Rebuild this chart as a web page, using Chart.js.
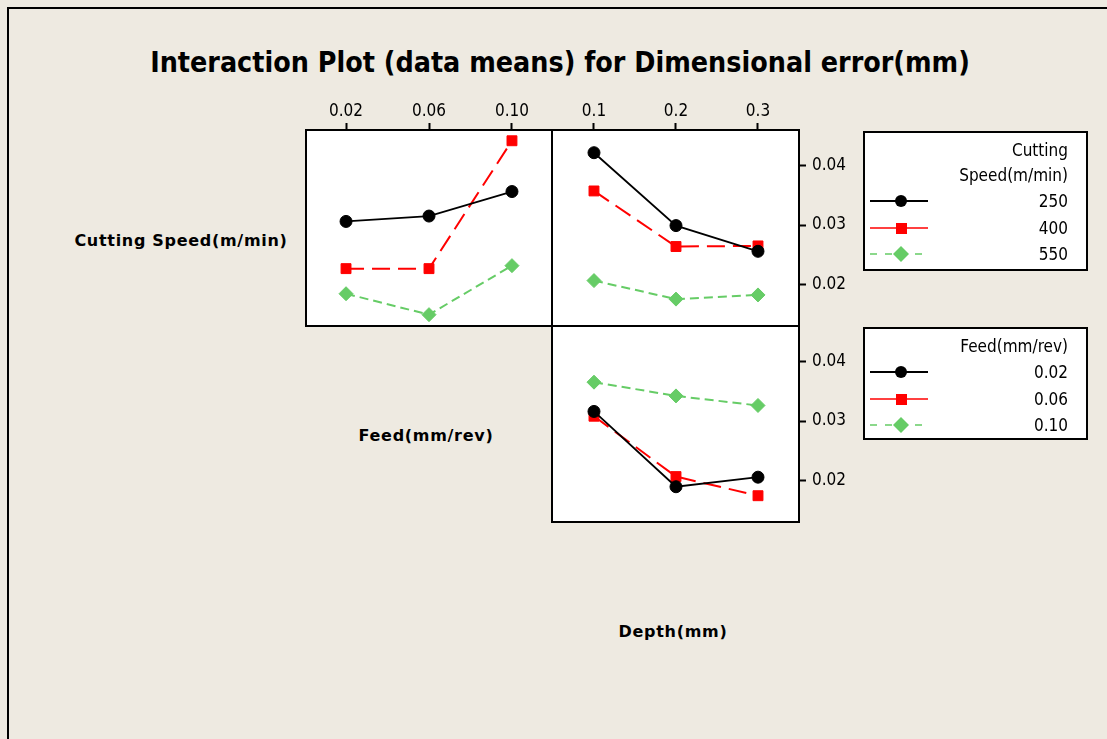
<!DOCTYPE html>
<html><head><meta charset="utf-8">
<script src="https://cdn.jsdelivr.net/npm/chart.js@4.4.1/dist/chart.umd.min.js"></script>
<style>
html,body{margin:0;padding:0;}
body{width:1107px;height:739px;background:#EEEAE1;position:relative;overflow:hidden;font-family:"DejaVu Sans Condensed","DejaVu Sans",sans-serif;color:#000;}
#frame{position:absolute;left:7px;top:7px;width:1120px;height:760px;border-left:2px solid #000;border-top:2px solid #000;}
canvas.cv{position:absolute;}
.lbl{position:absolute;font-family:"DejaVu Sans",sans-serif;font-weight:bold;font-size:16px;letter-spacing:0.7px;white-space:nowrap;transform:translate(-50%,-50%);}
#title{position:absolute;left:560px;top:62px;transform:translate(-50%,-50%);font-family:"DejaVu Sans Condensed","DejaVu Sans",sans-serif;font-weight:bold;font-size:27px;white-space:nowrap;}
.lbox{position:absolute;left:863px;width:225px;background:#fff;border:2px solid #000;box-sizing:border-box;}
.ltxt{position:absolute;left:800px;width:268px;text-align:right;font-size:17px;line-height:20px;transform:translateY(-50%);white-space:nowrap;}
#lsvg{position:absolute;left:0;top:0;}
</style>
</head>
<body>
<div id="frame"></div>
<div id="title">Interaction Plot (data means) for Dimensional error(mm)</div>
<div class="lbl" id="rowSpeed" style="left:181px;top:240px;">Cutting Speed(m/min)</div>
<div class="lbl" id="rowFeed" style="left:426px;top:435px;">Feed(mm/rev)</div>
<div class="lbl" id="rowDepth" style="left:673px;top:631px;">Depth(mm)</div>

<canvas class="cv" id="p1" width="266" height="246" style="left:296px;top:90px;"></canvas>
<canvas class="cv" id="p2" width="317" height="246" style="left:542px;top:90px;"></canvas>
<canvas class="cv" id="p3" width="317" height="216" style="left:542px;top:316px;"></canvas>

<div class="lbox" style="top:131px;height:140px;"></div>
<div class="lbox" style="top:327px;height:113px;"></div>
<div id="legendText"></div>
<svg id="lsvg" width="1107" height="739"></svg>

<script>
// ---- Data ----
const feedLevels  = [0.02, 0.06, 0.10];
const feedLabels  = ['0.02', '0.06', '0.10'];
const depthLevels = [0.1, 0.2, 0.3];
const depthLabels = ['0.1', '0.2', '0.3'];
const yTicks      = [0.02, 0.03, 0.04];
const yTickLabels = ['0.02', '0.03', '0.04'];
const speedLevels = ['250', '400', '550'];
const feedLegend  = ['0.02', '0.06', '0.10'];

// Cutting Speed x Feed (means at each feed)
const speed250_byFeed  = [0.0306, 0.0315, 0.0356];
const speed400_byFeed  = [0.0227, 0.0227, 0.0441];
const speed550_byFeed  = [0.0185, 0.0150, 0.0232];
// Cutting Speed x Depth
const speed250_byDepth = [0.0421, 0.0299, 0.0256];
const speed400_byDepth = [0.0357, 0.0264, 0.0265];
const speed550_byDepth = [0.0207, 0.0176, 0.0183];
// Feed x Depth
const feed002_byDepth  = [0.0316, 0.0190, 0.0206];
const feed006_byDepth  = [0.0308, 0.0207, 0.0175];
const feed010_byDepth  = [0.0365, 0.0342, 0.0326];

// ---- Styles ----
const BLACK = '#000000', RED = '#FF0000', GREEN = '#66CC66';
const styles = [
  {color: BLACK, width: 1.8, dash: [],      point: 'circle',  r: 6},
  {color: RED,   width: 2,   dash: [18, 8], point: 'rect',    r: 7},
  {color: GREEN, width: 2,   dash: [9, 5],  point: 'rectRot', r: 7}
];
const Y_MIN = 0.0131, Y_MAX = 0.0459;
const tickFont = {family: '"DejaVu Sans Condensed","DejaVu Sans",sans-serif', size: 17};

function ds(xs, ys, st, label) {
  return {
    label: label,
    data: xs.map((x, i) => ({x: x, y: ys[i]})),
    borderColor: st.color, backgroundColor: st.color,
    borderWidth: st.width, borderDash: st.dash,
    pointStyle: st.point, pointRadius: st.r,
    pointBackgroundColor: st.color, pointBorderColor: st.color, pointBorderWidth: 1,
    tension: 0, fill: false
  };
}

const framePlugin = {
  id: 'frame',
  beforeDraw(chart) {
    const {ctx, chartArea: a} = chart;
    ctx.save(); ctx.fillStyle = '#fff';
    ctx.fillRect(a.left, a.top, a.right - a.left, a.bottom - a.top);
    ctx.restore();
  },
  afterDraw(chart) {
    const {ctx, chartArea: a} = chart;
    ctx.save(); ctx.strokeStyle = '#000'; ctx.lineWidth = 2;
    ctx.strokeRect(a.left, a.top, a.right - a.left, a.bottom - a.top);
    ctx.restore();
  }
};

function xAxis(levels, labels, min, max, show) {
  const ax = {
    type: 'linear', position: 'top', min: min, max: max, display: show,
    afterBuildTicks: s => { s.ticks = levels.map(v => ({value: v})); },
    ticks: {callback: (v, i) => labels[i], font: tickFont, color: '#000', padding: 1, maxRotation: 0, autoSkip: false},
    grid: {drawOnChartArea: false, drawTicks: true, tickLength: 7, tickColor: '#000', tickWidth: 2},
    border: {display: false}
  };
  ax.afterFit = s => {
    s.height = show ? 40 : 0;
    s.paddingLeft = 0; s.paddingRight = 0; s.paddingTop = 0; s.paddingBottom = 0;
  };
  return ax;
}
function yAxis(show) {
  const ax = {
    type: 'linear', position: 'right', min: Y_MIN, max: Y_MAX, display: show,
    afterBuildTicks: s => { s.ticks = yTicks.map(v => ({value: v})); },
    ticks: {callback: (v, i) => yTickLabels[i], font: tickFont, color: '#000', padding: 6, autoSkip: false},
    grid: {drawOnChartArea: false, drawTicks: true, tickLength: 7, tickColor: '#000', tickWidth: 2},
    border: {display: false}
  };
  ax.afterFit = s => {
    s.width = show ? 60 : 0;
    s.paddingLeft = 0; s.paddingRight = 0; s.paddingTop = 0; s.paddingBottom = 0;
  };
  return ax;
}
function makeChart(id, datasets, xa, ya, padding) {
  return new Chart(document.getElementById(id), {
    type: 'line',
    data: {datasets: datasets},
    options: {
      responsive: false, animation: false, devicePixelRatio: 1,
      layout: {padding: padding},
      plugins: {legend: {display: false}, tooltip: {enabled: false}, title: {display: false}},
      scales: {x: xa, y: ya}
    },
    plugins: [framePlugin]
  });
}

makeChart('p1', [
  ds(feedLevels, speed250_byFeed, styles[0], speedLevels[0]),
  ds(feedLevels, speed400_byFeed, styles[1], speedLevels[1]),
  ds(feedLevels, speed550_byFeed, styles[2], speedLevels[2])
], xAxis(feedLevels, feedLabels, 0.0007, 0.1193, true), yAxis(false),
  {left: 10, right: 10, top: 0, bottom: 10});

makeChart('p2', [
  ds(depthLevels, speed250_byDepth, styles[0], speedLevels[0]),
  ds(depthLevels, speed400_byDepth, styles[1], speedLevels[1]),
  ds(depthLevels, speed550_byDepth, styles[2], speedLevels[2])
], xAxis(depthLevels, depthLabels, 0.0488, 0.35, true), yAxis(true),
  {left: 10, right: 0, top: 0, bottom: 10});

makeChart('p3', [
  ds(depthLevels, feed002_byDepth, styles[0], feedLegend[0]),
  ds(depthLevels, feed006_byDepth, styles[1], feedLegend[1]),
  ds(depthLevels, feed010_byDepth, styles[2], feedLegend[2])
], xAxis(depthLevels, depthLabels, 0.0488, 0.35, false), yAxis(true),
  {left: 10, right: 0, top: 10, bottom: 10});

// ---- Legends (HTML text + SVG samples) ----
const lt = document.getElementById('legendText');
const svg = document.getElementById('lsvg');
function addText(txt, y) {
  const d = document.createElement('div');
  d.className = 'ltxt'; d.style.top = y + 'px'; d.textContent = txt; lt.appendChild(d);
}
function addSample(st, y, legendDash) {
  const NS = 'http://www.w3.org/2000/svg';
  const ln = document.createElementNS(NS, 'line');
  ln.setAttribute('x1', 870); ln.setAttribute('x2', 928);
  ln.setAttribute('y1', y); ln.setAttribute('y2', y);
  ln.setAttribute('stroke', st.color); ln.setAttribute('stroke-width', st.point === 'circle' ? 2 : 1.6);
  if (legendDash) ln.setAttribute('stroke-dasharray', legendDash);
  svg.appendChild(ln);
  let m;
  if (st.point === 'circle') {
    m = document.createElementNS(NS, 'circle');
    m.setAttribute('cx', 901); m.setAttribute('cy', y); m.setAttribute('r', 6);
  } else if (st.point === 'rect') {
    m = document.createElementNS(NS, 'rect');
    m.setAttribute('x', 896); m.setAttribute('y', y - 5); m.setAttribute('width', 11); m.setAttribute('height', 11);
  } else {
    m = document.createElementNS(NS, 'polygon');
    m.setAttribute('points', `${901-8},${y} ${901},${y-8} ${901+8},${y} ${901},${y+8}`);
  }
  m.setAttribute('fill', st.color);
  svg.appendChild(m);
}
addText('Cutting', 150); addText('Speed(m/min)', 175);
const lg1Y = [201, 228, 254];
speedLevels.forEach((s, i) => { addText(s, lg1Y[i]); addSample(styles[i], lg1Y[i], i === 2 ? '7,8' : null); });
addText('Feed(mm/rev)', 346);
const lg2Y = [372, 399, 425];
feedLegend.forEach((s, i) => { addText(s, lg2Y[i]); addSample(styles[i], lg2Y[i], i === 2 ? '7,8' : null); });

// fit title width to reference span
(function fit() {
  const t = document.getElementById('title');
  const w = t.getBoundingClientRect().width;
  const fs = parseFloat(getComputedStyle(t).fontSize);
  t.style.fontSize = (fs * 820 / w) + 'px';
})();
</script>
</body></html>
